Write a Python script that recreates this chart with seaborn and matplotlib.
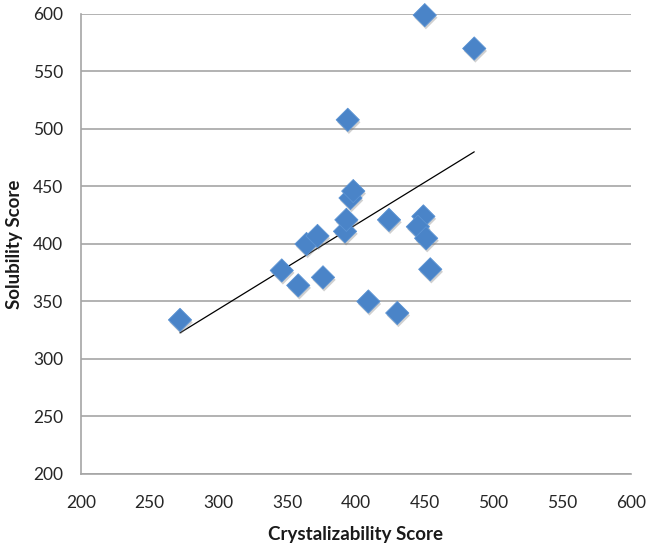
import numpy as np
import pandas as pd
import matplotlib
matplotlib.use("Agg")
import matplotlib.pyplot as plt
import matplotlib.patheffects as pe
import seaborn as sns

# values
crystalizability = [272, 346, 358, 376, 364, 372, 392, 393, 396, 398,
                    424, 409, 430, 449, 445, 451, 454, 450, 486, 394]
solubility = [334, 377, 364, 371, 400, 407, 411, 421, 440, 446,
              421, 350, 340, 424, 415, 405, 378, 599, 570, 508]
ticks = [200, 250, 300, 350, 400, 450, 500, 550, 600]

df = pd.DataFrame({'Crystalizability Score': crystalizability,
                   'Solubility Score': solubility})

sns.set_style('white')
plt.rcParams['font.family'] = ['Lato', 'DejaVu Sans']

GRID = '#a5a5a5'
BLUE = '#4a84c8'

fig = plt.figure(figsize=(6.52, 5.5), dpi=100)
ax = fig.add_axes([81 / 652, 76 / 550, 550 / 652, 460 / 550])

# linear trend line across the data range (like a spreadsheet trendline)
sns.regplot(data=df, x='Crystalizability Score', y='Solubility Score', ax=ax,
            scatter=False, ci=None, truncate=True,
            line_kws={'color': 'black', 'lw': 0.9, 'zorder': 3})

sns.scatterplot(data=df, x='Crystalizability Score', y='Solubility Score', ax=ax,
                marker='D', s=140, color=BLUE, edgecolor='#5b93d3', linewidth=0.6,
                zorder=4, clip_on=False,
                path_effects=[pe.SimplePatchShadow(offset=(0.8, -1.8), shadow_rgbFace='#7a7a7a', alpha=0.35),
                              pe.Normal()])

ax.set_xlim(200, 600)
ax.set_ylim(200, 600)
ax.set_xticks(ticks)
ax.set_yticks(ticks)
ax.yaxis.grid(True, color=GRID, lw=1.2)
ax.xaxis.grid(False)
ax.set_axisbelow(True)

for side in ['top', 'right']:
    ax.spines[side].set_visible(False)
for side in ['left', 'bottom']:
    ax.spines[side].set_color(GRID)
    ax.spines[side].set_linewidth(1.2)

ax.tick_params(axis='both', length=0, labelsize=12.5, colors='#262626')
ax.tick_params(axis='y', pad=13)
ax.tick_params(axis='x', pad=15)

ax.set_xlabel('Crystalizability Score', fontsize=13.5, fontweight='bold', labelpad=11, color='#1a1a1a')
ax.set_ylabel('Solubility Score', fontsize=13.5, fontweight='bold', labelpad=7, color='#1a1a1a')

fig.savefig('out.png', dpi=100)
